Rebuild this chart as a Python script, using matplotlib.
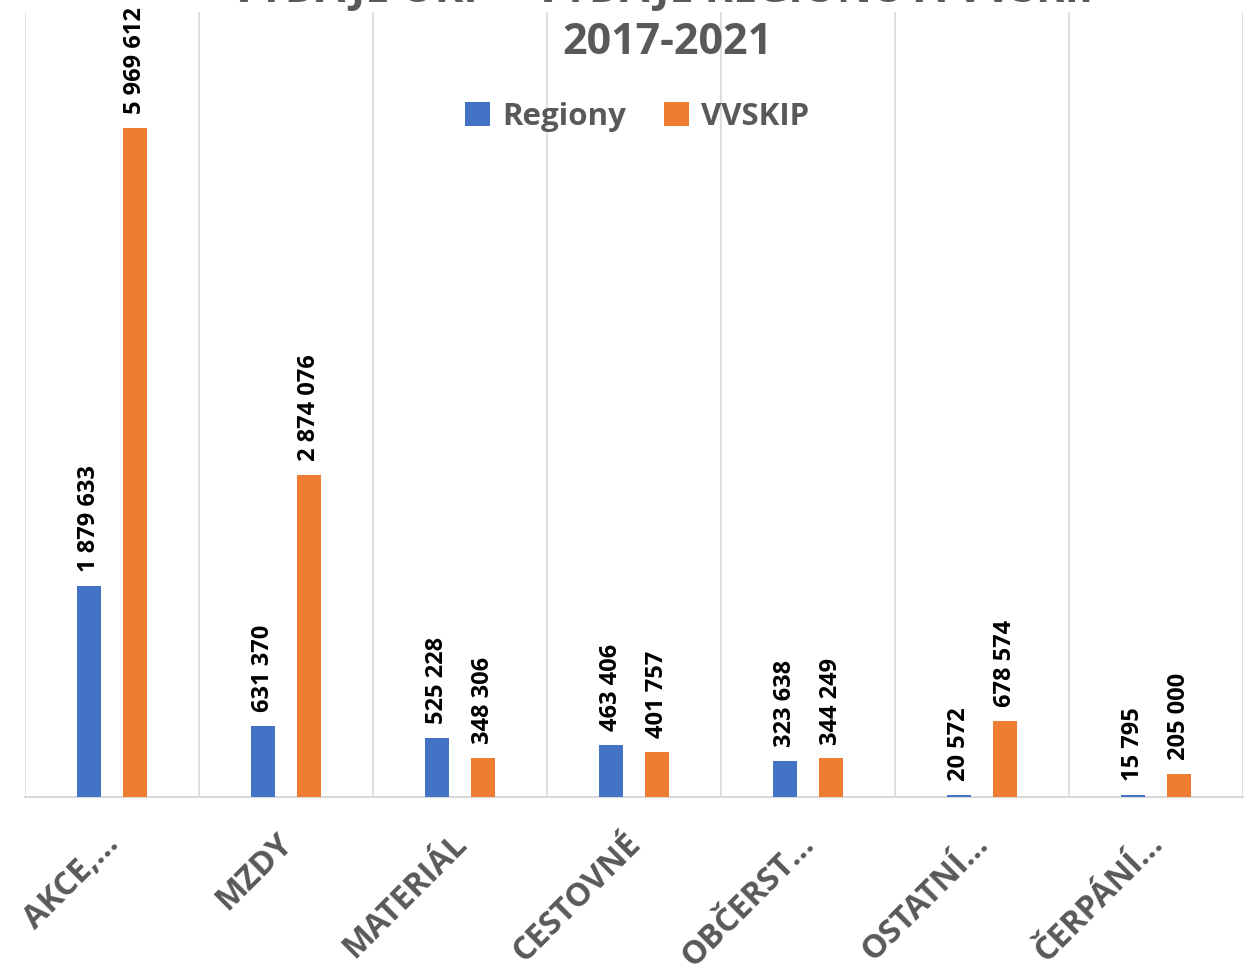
import matplotlib.pyplot as plt
import matplotlib.transforms as mtransforms
import numpy as np

categories = ['AKCE,…', 'MZDY', 'MATERIÁL', 'CESTOVNÉ', 'OBČERST…', 'OSTATNÍ…', 'ČERPÁNÍ…']
regiony = [1879633, 631370, 525228, 463406, 323638, 20572, 15795]
vvskip = [5969612, 2874076, 348306, 401757, 344249, 678574, 205000]

plt.rcParams['font.family'] = ['Open Sans', 'DejaVu Sans']
grey = '#595959'

fig = plt.figure(figsize=(12.53, 9.77), dpi=100)
ax = fig.add_axes([25/1253, 1-797/977, 1218/1253, 785/977])

x = np.arange(len(categories))
w = 0.138
off = 0.13
b1 = ax.bar(x - off, regiony, w, color='#4472C4', label='Regiony', zorder=3)
b2 = ax.bar(x + off, vvskip, w, color='#ED7D31', label='VVSKIP', zorder=3)

def fmt(v):
    return f'{v:,}'.replace(',', ' ')

for bars, vals in [(b1, regiony), (b2, vvskip)]:
    for r, v in zip(bars, vals):
        ax.annotate(fmt(v), (r.get_x() + r.get_width()/2, v), xytext=(0, 10),
                    textcoords='offset points', rotation=90, ha='center', va='bottom',
                    fontsize=17, fontweight='bold', color='black')

ax.set_xlim(-0.5, len(categories) - 0.5)
ax.set_ylim(0, 7000000)
for b in np.arange(-0.5, len(categories), 1):
    ax.axvline(b, color='#d9d9d9', lw=1.2, zorder=1)

ax.set_yticks([])
ax.set_xticks(x)
ax.set_xticklabels(categories, rotation=45, ha='right', rotation_mode='anchor',
                   fontsize=23.5, fontweight='bold', color=grey)
ax.tick_params(axis='x', length=0, pad=22)
shift = mtransforms.ScaledTranslation(-10/100, 0, fig.dpi_scale_trans)
for lab in ax.get_xticklabels():
    lab.set_transform(lab.get_transform() + shift)
for s in ['top', 'left', 'right']:
    ax.spines[s].set_visible(False)
ax.spines['bottom'].set_color('#d9d9d9')
ax.spines['bottom'].set_linewidth(1.5)

fig.text(0.533, 1 + 14/977, 'VÝDAJE OKP – VÝDAJE REGIONŮ A VVSKIP', ha='center', va='center',
         fontsize=31, fontweight='bold', color=grey)
fig.text(0.533, 1 - 43/977, '2017-2021', ha='center', va='center',
         fontsize=31, fontweight='bold', color=grey)

leg = fig.legend(loc='center', bbox_to_anchor=(637/1253, 1 - 117/977), ncol=2, frameon=False,
                 prop={'size': 22.5, 'weight': 'bold'}, handlelength=0.8, handleheight=0.8,
                 handletextpad=0.4, columnspacing=1.2)
for t in leg.get_texts():
    t.set_color(grey)

fig.savefig('out.png', dpi=100)
